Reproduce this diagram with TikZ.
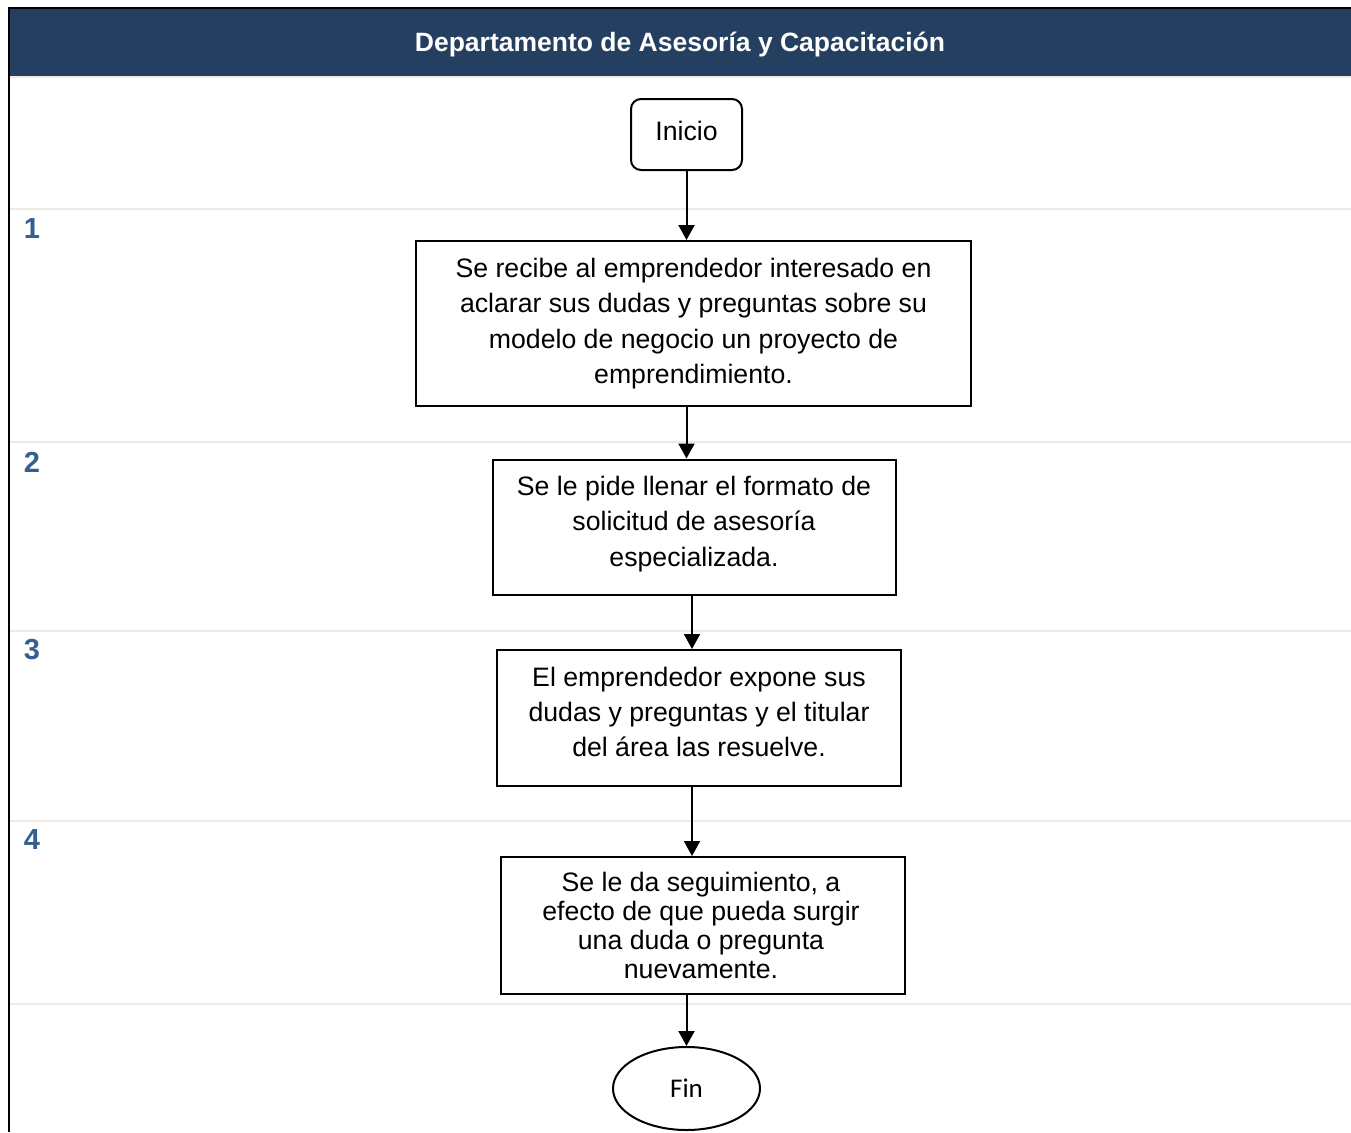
\documentclass[tikz,border=0pt]{standalone}
\usepackage{fontspec}
\setmainfont{Liberation Sans}
\newfontfamily\carlito{Carlito}
\usetikzlibrary{arrows.meta,shapes.geometric}
\definecolor{hdr}{HTML}{243F60}
\definecolor{cream}{HTML}{EEECE1}
\definecolor{numblue}{HTML}{365F91}
\tikzset{
  stepbox/.style={draw=black, line width=2pt, rectangle, inner sep=0pt},
  steptext/.style={align=center, inner sep=0pt, font=\fontsize{26.67}{35.3}\selectfont},
  startbox/.style={draw=black, line width=2pt, rectangle, rounded corners=10pt, inner sep=0pt, minimum width=111pt, minimum height=71pt},
  endbox/.style={draw=black, line width=2pt, ellipse, inner sep=0pt, minimum width=147pt, minimum height=83pt, font=\carlito\fontsize{27}{30}\selectfont},
  flow/.style={draw=black, line width=2pt, -{Triangle[length=15pt,width=16pt]}},
  lane/.style={draw=cream, line width=2pt},
  num/.style={text=numblue, font=\bfseries\fontsize{29}{30}\selectfont, inner sep=0pt}
}
\begin{document}
\begin{tikzpicture}[x=1pt,y=-1pt]
\useasboundingbox (0,0) rectangle (1351,1132);
\fill[white] (0,0) rectangle (1351,1132);
% header
\fill[hdr] (9,8) rectangle (1351,76);
\node[text=white, font=\bfseries\fontsize{26.5}{30}\selectfont, inner sep=0pt] (title) at (680,45) {Departamento de Asesoría y Capacitación};
% lane separators
\foreach \yy in {77,209,442,631,821,1004} {\draw[lane] (10,\yy) -- (1351,\yy);}
% borders
\draw[black, line width=2pt] (8,8) -- (1351,8);
\draw[black, line width=2pt] (9,7) -- (9,1132);
% numbers
\node[num] (n1) at (32,229) {1};
\node[num] (n2) at (32,462) {2};
\node[num] (n3) at (32,650) {3};
\node[num] (n4) at (32,840) {4};
% nodes
\node[startbox] (inicio) at (686.5,134.5) {};
\node[font=\fontsize{26.67}{30}\selectfont, inner sep=0pt] (tinicio) at ([yshift=4pt]inicio.center) {Inicio};
\node[stepbox, minimum width=555pt, minimum height=165pt] (b1) at (693.5,323.5) {};
\node[steptext] (t1) at (b1.center) {Se recibe al emprendedor interesado en\\aclarar sus dudas y preguntas sobre su\\modelo de negocio un proyecto de\\emprendimiento.};
\node[stepbox, minimum width=403pt, minimum height=135pt] (b2) at (694,527) {};
\node[steptext] (t2) at ([yshift=3pt]b2.center) {Se le pide llenar el formato de\\solicitud de asesoría\\especializada.};
\node[stepbox, minimum width=404pt, minimum height=136pt] (b3) at (699,718) {};
\node[steptext] (t3) at ([yshift=6pt]b3.center) {El emprendedor expone sus\\dudas y preguntas y el titular\\del área las resuelve.};
\node[stepbox, minimum width=404pt, minimum height=137pt] (b4) at (703,925.5) {};
\node[steptext, font=\fontsize{26.67}{29}\selectfont] (t4) at ([xshift=-2pt]b4.center) {Se le da seguimiento, a\\efecto de que pueda surgir\\una duda o pregunta\\nuevamente.};
\node[endbox] (fin) at (686.5,1088.5) {Fin};
% connectors
\draw[flow] (inicio.south) -- (inicio.south |- b1.north);
\draw[flow] (inicio.south |- b1.south) -- (inicio.south |- b2.north);
\draw[flow] ([xshift=-2pt]b2.south) -- ([xshift=-2pt]b2.south |- b3.north);
\draw[flow] ([xshift=-7pt]b3.south) -- ([xshift=-7pt]b3.south |- b4.north);
\draw[flow] (fin.north |- b4.south) -- (fin.north);
\end{tikzpicture}
\end{document}
